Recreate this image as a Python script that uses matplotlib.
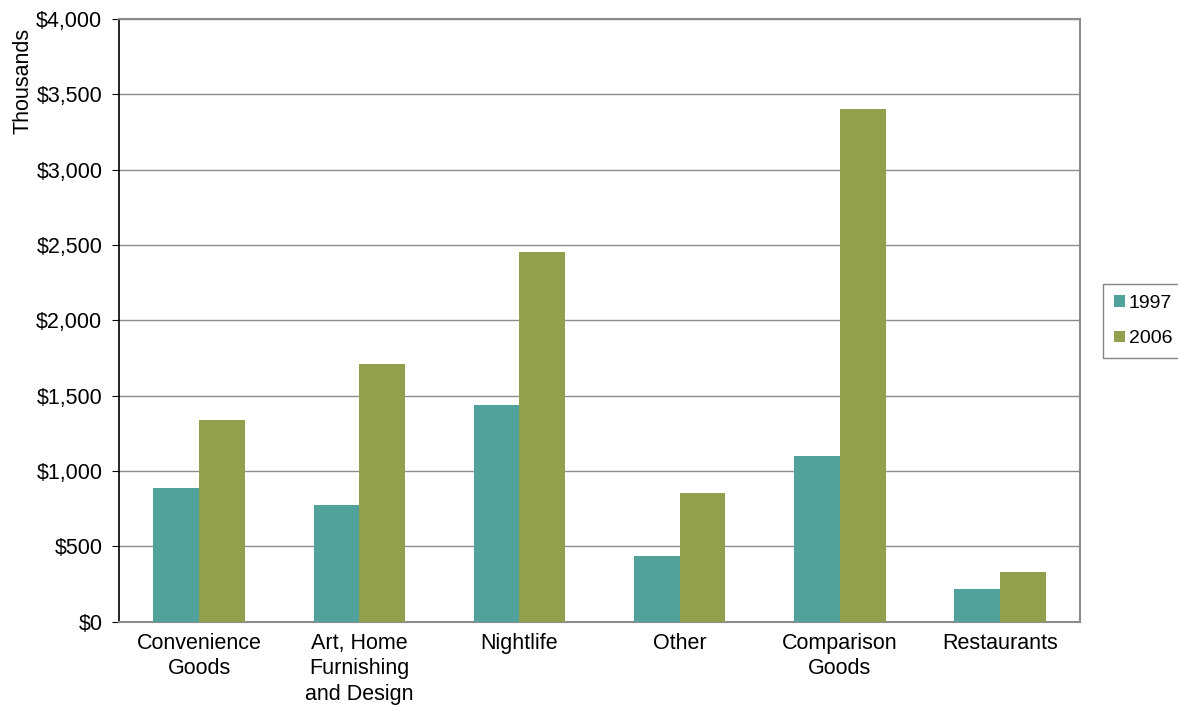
import numpy as np
import matplotlib.pyplot as plt
from matplotlib.ticker import FuncFormatter

plt.rcParams['font.family'] = ['Liberation Sans', 'DejaVu Sans']

# Sales by category (thousands of dollars)
categories = ['Convenience\nGoods', 'Art, Home\nFurnishing\nand Design', 'Nightlife',
              'Other', 'Comparison\nGoods', 'Restaurants']
sales_1997 = [888, 777, 1436, 440, 1102, 220]
sales_2006 = [1340, 1709, 2457, 854, 3402, 330]

color_1997 = '#50A29B'
color_2006 = '#92A04E'
grid_color = '#8C8C8C'

fig = plt.figure(figsize=(11.78, 7.05), dpi=100)
ax = fig.add_axes([0.101, 0.118, 0.816, 0.855])

x = np.arange(len(categories))
width = 0.285
ax.bar(x - width / 2, sales_1997, width, color=color_1997, label='1997', zorder=3)
ax.bar(x + width / 2, sales_2006, width, color=color_2006, label='2006', zorder=3)

ax.set_xlim(-0.5, len(categories) - 0.5)
ax.set_ylim(0, 4000)
ax.set_yticks(np.arange(0, 4001, 500))
ax.yaxis.set_major_formatter(FuncFormatter(lambda v, _: f'${v:,.0f}'))
ax.set_xticks(x)
ax.set_xticklabels(categories, fontsize=15.5, linespacing=1.27)
ax.tick_params(axis='y', labelsize=15.5, length=5, color='black', pad=7)
ax.tick_params(axis='x', length=0, pad=8)
ax.yaxis.grid(True, color=grid_color, linewidth=1, zorder=0)

for side in ['top', 'right', 'bottom']:
    ax.spines[side].set_color(grid_color)
    ax.spines[side].set_linewidth(1.5)
ax.spines['left'].set_color('black')
ax.spines['left'].set_linewidth(1.2)

ax.set_ylabel('Thousands', fontsize=15.5)
ax.yaxis.set_label_coords(-0.089, 0.897)

leg = ax.legend(loc='center left', bbox_to_anchor=(1.024, 0.499), fontsize=14,
                frameon=True, fancybox=False, handlelength=0.55, handleheight=0.55,
                handletextpad=0.2, labelspacing=0.95, borderpad=0.55, borderaxespad=0)
leg.get_frame().set_edgecolor('#666666')
leg.get_frame().set_linewidth(1)

fig.savefig('out.png', dpi=100)
